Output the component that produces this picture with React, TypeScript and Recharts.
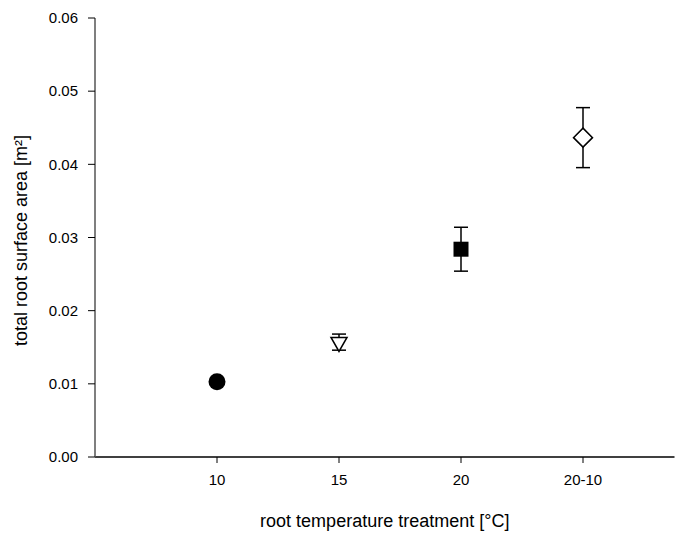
import { ScatterChart, Scatter, XAxis, YAxis, ErrorBar } from 'recharts';

// root temperature treatments and measured root surface area (mean ± error)
const categories = ['10', '15', '20', '20-10'];
const positions = [1, 2, 3, 4];
const means = [0.0103, 0.0157, 0.0284, 0.04365];
const errors = [0.0004, 0.0011, 0.003, 0.0041];
const markers = ['circle', 'triangleDown', 'square', 'diamond'];
const yTicks = [0, 0.01, 0.02, 0.03, 0.04, 0.05, 0.06];

const W = 696;
const H = 534;

const Marker = (props: any) => {
    const { cx, cy, kind } = props;
    if (cx == null || cy == null) return null;
    if (kind === 'circle') {
        return <circle cx={cx} cy={cy} r={8.5} fill="#000" />;
    }
    if (kind === 'triangleDown') {
        // centroid on the data point
        return (
            <path
                d={`M${cx - 8},${cy - 4.7}L${cx + 8},${cy - 4.7}L${cx},${cy + 9.3}Z`}
                fill="#fff"
                stroke="#000"
                strokeWidth={1.5}
            />
        );
    }
    if (kind === 'square') {
        return <rect x={cx - 7.5} y={cy - 7.5} width={15} height={15} fill="#000" />;
    }
    return (
        <path
            d={`M${cx},${cy - 9.5}L${cx + 9.5},${cy}L${cx},${cy + 9.5}L${cx - 9.5},${cy}Z`}
            fill="#fff"
            stroke="#000"
            strokeWidth={1.5}
        />
    );
};

const YTitle = (props: any) => {
    const vb = props.viewBox || { x: 0, y: 18, width: 95, height: 439 };
    const x = vb.x + 21;
    const y = vb.y + vb.height / 2 + 3;
    return (
        <text
            x={x}
            y={y}
            transform={`rotate(-90 ${x} ${y})`}
            textAnchor="middle"
            dominantBaseline="central"
            fontSize={18}
            fill="#000"
        >
            total root surface area [m²]
        </text>
    );
};

const App = () => {
    return (
        <div style={{ position: 'absolute', left: 0, top: 0, background: '#fff', fontFamily: 'Arial, "Liberation Sans", sans-serif' }}>
            <ScatterChart width={W} height={H} margin={{ top: 18, right: 21.5, bottom: 0, left: 0 }}>
                <XAxis
                    type="number"
                    dataKey="x"
                    domain={[0, 4.75]}
                    ticks={positions}
                    tickFormatter={(v: number) => categories[positions.indexOf(v)] ?? ''}
                    height={77}
                    tickSize={6}
                    tickMargin={11}
                    stroke="#000"
                    strokeWidth={1.5}
                    tick={{ fill: '#000', fontSize: 15 }}
                    tickLine={{ stroke: '#000', strokeWidth: 1 }}
                    allowDataOverflow
                    label={{ value: 'root temperature treatment [°C]', position: 'insideBottom', offset: 7, fill: '#000', fontSize: 18 }}
                />
                <YAxis
                    type="number"
                    dataKey="y"
                    domain={[0, 0.06]}
                    ticks={yTicks}
                    tickFormatter={(v: number) => v.toFixed(2)}
                    width={95}
                    tickSize={7}
                    tickMargin={10}
                    stroke="#555"
                    strokeWidth={1.5}
                    tick={{ fill: '#000', fontSize: 15 }}
                    tickLine={{ stroke: '#000', strokeWidth: 1 }}
                    allowDataOverflow
                    label={{ content: YTitle }}
                />
                {categories.map((c, i) => (
                    <Scatter
                        key={c}
                        name={c}
                        data={[{ x: positions[i], y: means[i], err: errors[i] }]}
                        isAnimationActive={false}
                        shape={(p: any) => <Marker {...p} kind={markers[i]} />}
                    >
                        <ErrorBar dataKey="err" direction="y" width={7} stroke="#000" strokeWidth={1.5} />
                    </Scatter>
                ))}
            </ScatterChart>
        </div>
    );
};

export default App;
